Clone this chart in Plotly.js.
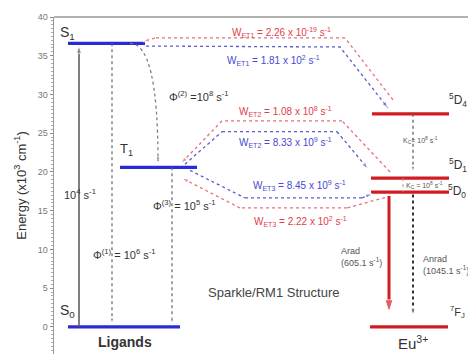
<!DOCTYPE html>
<html><head><meta charset="utf-8">
<script src="https://cdn.plot.ly/plotly-3.0.1.min.js"></script>
<style>html,body{margin:0;padding:0;background:#fff;overflow:hidden}</style>
</head><body><div id="chart" style="width:468px;height:354px"></div>
<script>
// ---- data (energies in 10^3 cm^-1) ----
const ligandLevels = ['S0', 'T1', 'S1'];
const ligandEnergy = [0, 20.6, 36.6];
const euLevels = ['7FJ', '5D0', '5D1', '5D4'];
const euEnergy = [0, 17.4, 19.2, 27.5];
const yTicks = [0, 5, 10, 15, 20, 25, 30, 35, 40];
const wetNames = ['ET1', 'ET2', 'ET3'];
const wetForward = ['1.81 x 10<sup>2</sup>', '8.33 x 10<sup>9</sup>', '8.45 x 10<sup>9</sup>'];
const wetBack = ['2.26 x 10<sup>-19</sup>', '1.08 x 10<sup>8</sup>', '2.22 x 10<sup>2</sup>'];
const phiNames = ['(1)', '(2)', '(3)'];
const phiRates = ['10<sup>6</sup>', '10<sup>8</sup>', '10<sup>5</sup>'];
const absRate = '10<sup>4</sup>';
const kcRate = '10<sup>8</sup>';
const aRad = '605.1';
const aNrad = '1045.1';

// ---- layout helpers ----
const E = {};
ligandLevels.forEach((k, i) => E[k] = ligandEnergy[i]);
euLevels.forEach((k, i) => E[k] = euEnergy[i]);
const span = {S1: [68, 145], T1: [120, 197], S0: [68, 180], '5D4': [372, 449], '5D1': [371, 449], '5D0': [371, 449], '7FJ': [370, 448]};
const BLUE = '#2b2bd6', RED = '#d01c22';
const BLUE_D = '#5b5bd0', RED_D = '#e8707a';
const traces = [];
function level(k, color) {
  traces.push({x: span[k], y: [E[k], E[k]], mode: 'lines', line: {color: color, width: 3.2}, hoverinfo: 'skip'});
}
['S1', 'T1', 'S0'].forEach(k => level(k, BLUE));
['5D4', '5D1', '5D0', '7FJ'].forEach(k => level(k, RED));

function arrow(xs, ys, color, dash, width, head) {
  const n = xs.length;
  traces.push({
    x: xs, y: ys, mode: 'lines+markers', hoverinfo: 'skip',
    line: {color: color, width: width, dash: dash},
    marker: {symbol: xs.map((_, i) => i === n - 1 ? 'arrow' : 'circle'), size: xs.map((_, i) => i === n - 1 ? head : 0), angleref: 'previous', color: color}
  });
}
// absorption S0 -> S1
arrow([79, 79], [E.S0, E.S1 - 0.3], '#555', 'solid', 1.5, 8);
// Phi1 S1 -> S0
arrow([112, 112], [E.S1, E.S0 + 0.4], '#666', 'dot', 1.2, 6);
// Phi3 T1 -> S0
arrow([172, 172], [E.T1, E.S0 + 0.4], '#666', 'dot', 1.2, 6);
// WET1
arrow([146, 340, 388], [E.S1 - 0.35, E.S1 - 0.47, 28.25], BLUE_D, 'dot', 1.3, 7);
arrow([393, 345, 155, 143], [29.3, 37.3, 37.3, E.S1 + 0.2], RED_D, 'dot', 1.3, 7);
// WET2
arrow([185, 222, 337, 368], [E.T1 + 0.4, 25.2, 25.2, E['5D1'] + 1.2], BLUE_D, 'dot', 1.3, 7);
arrow([390, 342, 222, 181], [E['5D1'] + 0.8, 26.6, 26.6, E.T1 + 0.5], RED_D, 'dot', 1.3, 7);
// WET3
arrow([190, 245, 362, 372], [E.T1 - 0.4, 16.64, 16.64, E['5D0'] - 0.2], BLUE_D, 'dot', 1.3, 7);
arrow([385, 347, 240, 182], [E['5D0'] - 0.7, 15.35, 15.35, E.T1 - 1.4], RED_D, 'dot', 1.3, 7);
// Kc 5D4 -> 5D1
arrow([413, 413], [E['5D4'], E['5D1'] + 0.8], '#666', 'dot', 1.3, 6);
traces.push({x: [403, 403], y: [E['5D1'], E['5D0']], mode: 'lines', line: {color: '#999', width: 1, dash: 'dot'}, hoverinfo: 'skip'});
// Anrad
arrow([413, 413], [E['5D0'] - 0.3, E['7FJ'] + 1.5], '#333', 'dot', 2, 7);
// Arad
arrow([389, 389], [E['5D0'] - 0.5, E['7FJ'] + 1.9], RED, 'solid', 3, 13);

const annotations = [];
function txt(x, y, text, size, color, extra) {
  annotations.push(Object.assign({x: x, y: y, xref: 'x', yref: 'y', text: text, showarrow: false, font: {size: size, color: color}}, extra || {}));
}
const DK = '#333';
txt(67, 37.9, 'S<sub>1</sub>', 14, DK);
txt(126, 22.9, 'T<sub>1</sub>', 13, DK);
txt(67, 2.1, 'S<sub>0</sub>', 14, DK);
txt(125, -2.0, '<b>Ligands</b>', 14, DK);
txt(413, -2.0, 'Eu<sup>3+</sup>', 15, DK);
txt(458, 29.3, '<sup>5</sup>D<sub>4</sub>', 12, DK);
txt(458, 20.9, '<sup>5</sup>D<sub>1</sub>', 12, DK);
txt(457, 17.6, '<sup>5</sup>D<sub>0</sub>', 12, DK);
txt(457, 1.9, '<sup>7</sup>F<sub>J</sub>', 11, DK);
txt(80, 17.2, absRate + ' s<sup>-1</sup>', 11, DK);
txt(124, 9.4, '\u03A6<sup>' + phiNames[0] + '</sup> = ' + phiRates[0] + ' s<sup>-1</sup>', 11, DK);
txt(199, 29.8, '\u03A6<sup>' + phiNames[1] + '</sup> =' + phiRates[1] + ' s<sup>-1</sup>', 11, DK);
txt(184, 15.7, '\u03A6<sup>' + phiNames[2] + '</sup> = ' + phiRates[2] + ' s<sup>-1</sup>', 11, DK);
const wetY = [[34.45, 38.06], [23.74, 27.74], [18.3, 13.54]];
const wetX = [[273, 281], [285, 285], [299, 300]];
wetNames.forEach((nm, i) => {
  txt(wetX[i][0], wetY[i][0], 'W<sub>' + nm + '</sub> = ' + wetForward[i] + ' s<sup>-1</sup>', 10, '#4848d0');
  txt(wetX[i][1], wetY[i][1], 'W<sub>' + nm + '</sub> = ' + wetBack[i] + ' s<sup>-1</sup>', 10, '#e0404c');
});
txt(420, 24.1, 'K<sub>C</sub>= ' + kcRate + ' s<sup>-1</sup>', 7, '#555');
txt(424, 18.3, 'K<sub>C</sub> = ' + kcRate + ' s<sup>-1</sup>', 7, '#555');
txt(339, 9.0, 'Arad<br>(' + aRad + ' s<sup>-1</sup>)', 9, '#555', {xanchor: 'left', align: 'left'});
txt(421, 8.0, 'Anrad<br>(' + aNrad + ' s<sup>-1</sup>)', 9, '#555', {xanchor: 'left', align: 'left'});
txt(274, 4.5, 'Sparkle/RM1 Structure', 13, '#444');

const layout = {
  width: 468, height: 354,
  margin: {l: 54, r: 0, t: 17, b: 0},
  paper_bgcolor: '#fff', plot_bgcolor: '#fff',
  showlegend: false,
  font: {family: 'Arial, "Liberation Sans", sans-serif'},
  xaxis: {range: [54, 468], visible: false, fixedrange: true},
  yaxis: {
    range: [-3.5, 40], tickvals: yTicks, ticks: 'outside', ticklen: 3, tickcolor: '#888',
    showline: true, linecolor: '#999', linewidth: 1.5, showgrid: false, zeroline: false,
    tickfont: {size: 9, color: '#777'},
    minor: {dtick: 0.5, ticks: 'outside', ticklen: 2, tickcolor: '#aaa'},
    title: {text: 'Energy (x10<sup>3</sup> cm<sup>-1</sup>)', font: {size: 13, color: '#333'}, standoff: 8}
  },
  shapes: [
    {type: 'line', xref: 'paper', yref: 'paper', x0: 0, x1: 1, y0: 1, y1: 1, line: {color: '#999', width: 1.5}},
    {type: 'path', xref: 'x', yref: 'y', path: 'M 130,' + E.S1 + ' Q 158,' + E.S1 + ' 158,' + (E.T1 + 0.8), line: {color: '#777', width: 1.2, dash: 'dot'}}
  ],
  annotations: annotations
};
traces.push({x: [158, 158], y: [E.T1 + 1.5, E.T1 + 0.6], mode: 'markers', hoverinfo: 'skip', marker: {symbol: ['circle', 'arrow'], size: [0, 6], angleref: 'previous', color: '#555'}});
Plotly.newPlot('chart', traces, layout, {staticPlot: true, displayModeBar: false});
</script></body></html>
